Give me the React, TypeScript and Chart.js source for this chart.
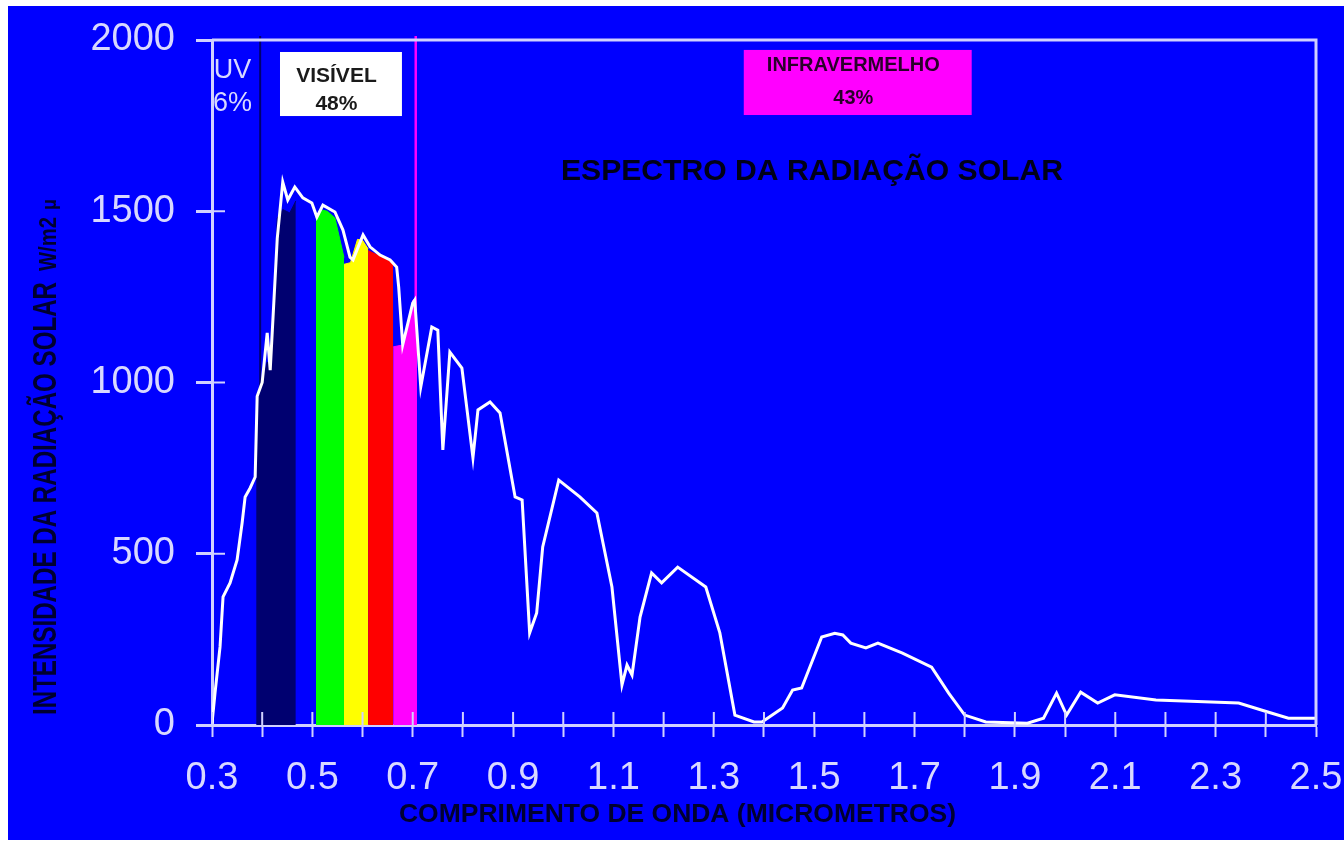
import React, { useEffect, useRef } from "react";
import { Chart, registerables } from "chart.js";

Chart.register(...registerables);

// ---------- data ----------
const wavelengths = [
  0.3, 0.306, 0.316, 0.322, 0.336, 0.35, 0.36, 0.366, 0.376, 0.386,
  0.39, 0.4, 0.41, 0.416, 0.43, 0.441, 0.451, 0.465, 0.481, 0.499,
  0.509, 0.521, 0.545, 0.561, 0.575, 0.581, 0.601, 0.615, 0.635, 0.655,
  0.668, 0.672, 0.68, 0.7, 0.704, 0.716, 0.738, 0.75, 0.76, 0.774,
  0.798, 0.82, 0.83, 0.854, 0.874, 0.904, 0.918, 0.933, 0.947, 0.959,
  0.991, 1.033, 1.067, 1.097, 1.117, 1.127, 1.137, 1.153, 1.176, 1.196,
  1.228, 1.284, 1.312, 1.342, 1.38, 1.396, 1.437, 1.457, 1.475, 1.515,
  1.541, 1.557, 1.573, 1.603, 1.627, 1.676, 1.734, 1.768, 1.8, 1.842,
  1.925, 1.957, 1.983, 2.003, 2.031, 2.065, 2.099, 2.181, 2.346, 2.404,
  2.445, 2.5,
];
const intensity = [
  5, 93, 228, 374, 415, 482, 590, 666, 692, 724,
  960, 1000, 1145, 1036, 1420, 1585, 1533, 1571, 1539, 1524,
  1483, 1518, 1498, 1445, 1366, 1358, 1431, 1396, 1372, 1358,
  1337, 1279, 1110, 1232, 1241, 987, 1162, 1153, 803, 1089,
  1042, 780, 920, 943, 911, 666, 657, 269, 327, 520,
  715, 666, 619, 403, 117, 175, 146, 315, 444, 415,
  461, 403, 269, 29, 9, 9, 50, 102, 108, 257,
  268, 263, 239, 225, 239, 210, 169, 93, 29, 9,
  5, 20, 93, 29, 96, 64, 88, 73, 64, 38,
  20, 20,
];

// colour bands of the visible spectrum: [wavelength, top of band]
const violetBand: [number, number][] = [
  [0.388, 960], [0.4, 1000], [0.41, 1060], [0.418, 1040], [0.43, 1480], [0.441, 1505], [0.455, 1495], [0.467, 1530],
];
const greenBand: [number, number][] = [
  [0.507, 1480], [0.515, 1505], [0.53, 1500], [0.545, 1480], [0.563, 1365],
];
const yellowBand: [number, number][] = [
  [0.563, 1345], [0.576, 1350], [0.59, 1418], [0.6, 1415], [0.611, 1390],
];
const redBand: [number, number][] = [
  [0.611, 1385], [0.63, 1372], [0.65, 1358], [0.661, 1350],
];
const magentaBand: [number, number][] = [
  [0.661, 1104], [0.681, 1110], [0.7, 1240], [0.708, 1250],
];

const bandColors = ["#000070", "#00ff00", "#ffff00", "#ff0000", "#ff00ff"];
const bands = [violetBand, greenBand, yellowBand, redBand, magentaBand];

const uvBoundary = 0.396;
const irBoundary = 0.706;

const xTickValues = ["0.3", "0.5", "0.7", "0.9", "1.1", "1.3", "1.5", "1.7", "1.9", "2.1", "2.3", "2.5"];
const yTickValues = [0, 500, 1000, 1500, 2000];

const chartTitle = "ESPECTRO DA RADIAÇÃO SOLAR";
const xTitle = "COMPRIMENTO DE ONDA (MICROMETROS)";
const yTitleMain = "INTENSIDADE DA RADIAÇÃO SOLAR";
const yTitleUnit = "W/m2";
const yTitleMicro = "µ";

const FONT = "'Liberation Sans', Arial, sans-serif";
const AXIS_COLOR = "#d0d0ff";

function drawFitted(ctx: CanvasRenderingContext2D, text: string, x: number, y: number, font: string, width: number, color: string) {
  ctx.save();
  ctx.font = font;
  ctx.fillStyle = color;
  ctx.textAlign = "left";
  ctx.textBaseline = "alphabetic";
  const w = ctx.measureText(text).width;
  ctx.translate(x, y);
  ctx.scale(width / w, 1);
  ctx.fillText(text, 0, 0);
  ctx.restore();
}

const overlayPlugin = {
  id: "overlay",
  beforeDatasetsDraw(chart: any) {
    const { ctx, chartArea: a, scales } = chart;
    const x = scales.x;
    ctx.save();
    const lines = [
      { at: uvBoundary, color: "#00006e", width: 2 },
      { at: irBoundary, color: "#ff00ff", width: 2.5 },
    ];
    lines.forEach((l) => {
      const px = x.getPixelForValue(l.at);
      ctx.strokeStyle = l.color;
      ctx.lineWidth = l.width;
      ctx.beginPath();
      ctx.moveTo(px, a.top - 4);
      ctx.lineTo(px, a.bottom);
      ctx.stroke();
    });
    ctx.restore();
  },
  afterDraw(chart: any) {
    const { ctx, chartArea: a, scales } = chart;
    const x = scales.x;
    const y = scales.y;
    ctx.save();
    // frame top & right
    ctx.strokeStyle = AXIS_COLOR;
    ctx.lineWidth = 3;
    ctx.beginPath();
    ctx.moveTo(a.left, a.top);
    ctx.lineTo(a.right, a.top);
    ctx.lineTo(a.right, a.bottom);
    ctx.stroke();
    // inner tick parts
    ctx.lineWidth = 2;
    x.ticks.forEach((t: any) => {
      const px = x.getPixelForValue(t.value);
      ctx.beginPath();
      ctx.moveTo(px, a.bottom);
      ctx.lineTo(px, a.bottom - 13);
      ctx.stroke();
    });
    y.ticks.forEach((t: any) => {
      const py = y.getPixelForValue(t.value);
      ctx.beginPath();
      ctx.moveTo(a.left, py);
      ctx.lineTo(a.left + 13, py);
      ctx.stroke();
    });

    // annotation boxes
    const boxes = [
      { x0: 0.4355, x1: 0.6785, y0: 1778, y1: 1965, fill: "#ffffff", color: "#1a1a1a", size: 21,
        lines: [{ t: "VISÍVEL", v: 1895 }, { t: "48%", v: 1813 }], cx: 0.548 },
      { x0: 1.3597, x1: 1.8139, y0: 1781, y1: 1971, fill: "#ff00ff", color: "#2a002a", size: 20,
        lines: [{ t: "INFRAVERMELHO", v: 1925 }, { t: "43%", v: 1829 }], cx: 1.578 },
    ];
    boxes.forEach((b) => {
      const l = x.getPixelForValue(b.x0);
      const r = x.getPixelForValue(b.x1);
      const t = y.getPixelForValue(b.y1);
      const btm = y.getPixelForValue(b.y0);
      ctx.fillStyle = b.fill;
      ctx.fillRect(l, t, r - l, btm - t);
      ctx.fillStyle = b.color;
      ctx.font = `bold ${b.size}px ${FONT}`;
      ctx.textAlign = "center";
      ctx.textBaseline = "middle";
      b.lines.forEach((ln) => {
        ctx.fillText(ln.t, x.getPixelForValue(b.cx), y.getPixelForValue(ln.v));
      });
    });

    // UV label
    ctx.fillStyle = "#d8d8ff";
    ctx.font = `27px ${FONT}`;
    ctx.textAlign = "center";
    ctx.textBaseline = "middle";
    ctx.fillText("UV", x.getPixelForValue(0.341), y.getPixelForValue(1912));
    ctx.fillText("6%", x.getPixelForValue(0.341), y.getPixelForValue(1814));

    // chart title
    drawFitted(ctx, chartTitle, 553, 174, `bold 30px ${FONT}`, 502, "#000018");
    // x axis title
    drawFitted(ctx, xTitle, 391, 816, `bold 26px ${FONT}`, 557, "#000030");
    // y axis title (rotated)
    ctx.save();
    ctx.translate(48, 709);
    ctx.rotate(-Math.PI / 2);
    drawFitted(ctx, yTitleMain, 0, 0, `bold 33px ${FONT}`, 433, "#000030");
    drawFitted(ctx, yTitleUnit, 444, 0, `bold 24px ${FONT}`, 54, "#000030");
    drawFitted(ctx, yTitleMicro, 505, 0, `bold 20px ${FONT}`, 11, "#000030");
    ctx.restore();

    ctx.restore();
  },
};

function pinScale(s: any, size: { width?: number; height?: number }) {
  if (size.width !== undefined) s.width = size.width;
  if (size.height !== undefined) s.height = size.height;
  s.paddingTop = 0;
  s.paddingBottom = 0;
  s.paddingLeft = 0;
  s.paddingRight = 0;
}

export default function App() {
  const canvasRef = useRef<HTMLCanvasElement | null>(null);

  useEffect(() => {
    if (!canvasRef.current) return;
    Chart.defaults.font.family = FONT;
    const datasets: any[] = [
      {
        label: "espectro",
        data: wavelengths.map((w, i) => ({ x: w, y: intensity[i] })),
        borderColor: "#ffffff",
        borderWidth: 3,
        pointRadius: 0,
        fill: false,
        tension: 0,
        order: 0,
      },
      ...bands.map((b, i) => ({
        label: "band" + i,
        data: b.map(([x, y]) => ({ x, y })),
        borderColor: bandColors[i],
        backgroundColor: bandColors[i],
        borderWidth: 1,
        pointRadius: 0,
        fill: "origin",
        tension: 0,
        order: 1,
      })),
    ];

    const chart = new Chart(canvasRef.current, {
      type: "line",
      data: { datasets },
      options: {
        animation: false,
        responsive: true,
        maintainAspectRatio: false,
        events: [],
        layout: { padding: { top: 34, right: 28, left: 0, bottom: 0 } },
        plugins: {
          legend: { display: false },
          tooltip: { enabled: false },
          title: { display: false },
        },
        scales: {
          x: {
            type: "linear",
            min: 0.3,
            max: 2.5,
            afterFit: (s: any) => pinScale(s, { height: 115 }),
            ticks: {
              stepSize: 0.1,
              maxTicksLimit: 100,
              autoSkip: false,
              maxRotation: 0,
              minRotation: 0,
              padding: 19,
              color: "#d8d8ff",
              font: { size: 38, family: FONT },
              callback: (v: any) => {
                const s = Number(v).toFixed(1);
                return xTickValues.includes(s) ? s : "";
              },
            },
            grid: {
              drawOnChartArea: false,
              drawTicks: true,
              tickLength: 12,
              tickWidth: 2,
              tickColor: AXIS_COLOR,
            },
            border: { display: true, color: AXIS_COLOR, width: 3 },
          },
          y: {
            type: "linear",
            min: 0,
            max: 2000,
            afterFit: (s: any) => pinScale(s, { width: 204 }),
            ticks: {
              stepSize: 500,
              padding: 21,
              color: "#d8d8ff",
              font: { size: 38, family: FONT },
              callback: (v: any) => (yTickValues.includes(Number(v)) ? String(v) : ""),
            },
            grid: {
              drawOnChartArea: false,
              drawTicks: true,
              tickLength: 16,
              tickWidth: 3,
              tickColor: AXIS_COLOR,
            },
            border: { display: true, color: AXIS_COLOR, width: 3 },
          },
        },
      },
      plugins: [overlayPlugin],
    });
    return () => chart.destroy();
  }, []);

  return (
    <div
      style={{
        position: "absolute",
        left: 8,
        top: 6,
        width: 1336,
        height: 834,
        background: "#0000ff",
      }}
    >
      <canvas ref={canvasRef} />
    </div>
  );
}
